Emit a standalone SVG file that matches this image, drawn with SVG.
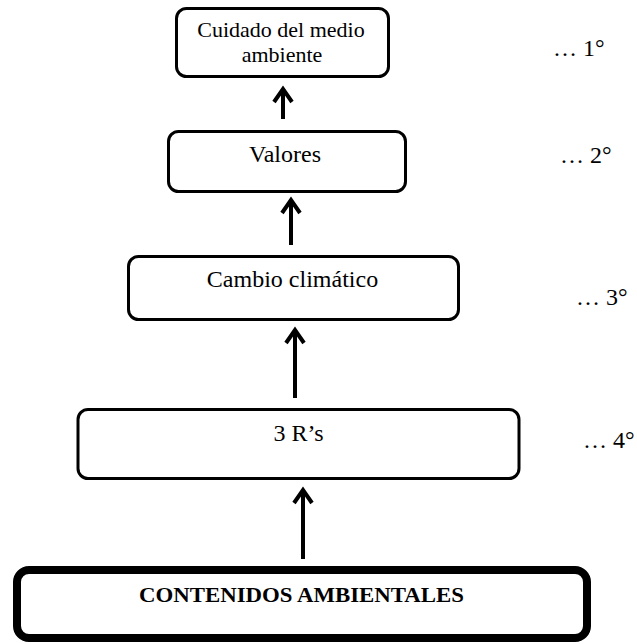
<svg xmlns="http://www.w3.org/2000/svg" width="637" height="644" viewBox="0 0 637 644">
  <defs>
    <style>
      .box { fill: #ffffff; stroke: #000000; stroke-width: 3; }
      .main { fill: #ffffff; stroke: #000000; stroke-width: 8; }
      .lbl { font-family: "Liberation Serif", "Times New Roman", serif; font-size: 24px; fill: #000000; text-anchor: middle; }
      .bold { font-family: "Liberation Serif", "Times New Roman", serif; font-size: 21px; font-weight: bold; fill: #000000; text-anchor: middle; }
      .ord { font-family: "Liberation Serif", "Times New Roman", serif; font-size: 24px; fill: #000000; }
      .shaft { stroke: #000000; stroke-width: 4; fill: none; }
      .head { stroke: #000000; stroke-width: 4; fill: none; stroke-linejoin: miter; }
    </style>
  </defs>
  <rect width="637" height="644" fill="#ffffff"/>

  <g id="connectors">
    <g id="arrow1">
      <line class="shaft" x1="283" y1="119" x2="283" y2="89"/>
      <path class="head" d="M274,102 L283,89 L292,102"/>
    </g>
    <g id="arrow2">
      <line class="shaft" x1="291" y1="245" x2="291" y2="200"/>
      <path class="head" d="M282,213 L291,200 L300,213"/>
    </g>
    <g id="arrow3">
      <line class="shaft" x1="295" y1="398" x2="295" y2="330"/>
      <path class="head" d="M286,343 L295,330 L304,343"/>
    </g>
    <g id="arrow4">
      <line class="shaft" x1="303" y1="559" x2="303" y2="490"/>
      <path class="head" d="M294,503 L303,490 L312,503"/>
    </g>
  </g>

  <g id="node-cuidado">
    <rect class="box" x="176.5" y="8.5" width="212" height="68" rx="10"/>
    <text class="lbl" x="281" y="37" style="font-size:22px">Cuidado del medio</text>
    <text class="lbl" x="282" y="61.5" style="font-size:22px">ambiente</text>
  </g>

  <g id="node-valores">
    <rect class="box" x="168.5" y="131.5" width="237" height="60" rx="10"/>
    <text class="lbl" x="285" y="161.5">Valores</text>
  </g>

  <g id="node-cambio">
    <rect class="box" x="128.5" y="256.5" width="330" height="63" rx="10"/>
    <text class="lbl" x="292.5" y="286.5">Cambio climático</text>
  </g>

  <g id="node-3rs">
    <rect class="box" x="78" y="409.5" width="441" height="69" rx="10"/>
    <text class="lbl" x="298.5" y="441">3 R’s</text>
  </g>

  <g id="node-contenidos">
    <rect class="main" x="17" y="570" width="570" height="68" rx="12"/>
    <text class="bold" x="301.5" y="602" textLength="325" lengthAdjust="spacingAndGlyphs">CONTENIDOS AMBIENTALES</text>
  </g>

  <g id="ordinals">
    <text class="ord" x="553" y="55.5">… 1°</text>
    <text class="ord" x="560" y="163">… 2°</text>
    <text class="ord" x="576" y="305">… 3°</text>
    <text class="ord" x="583" y="448">… 4°</text>
  </g>
</svg>
